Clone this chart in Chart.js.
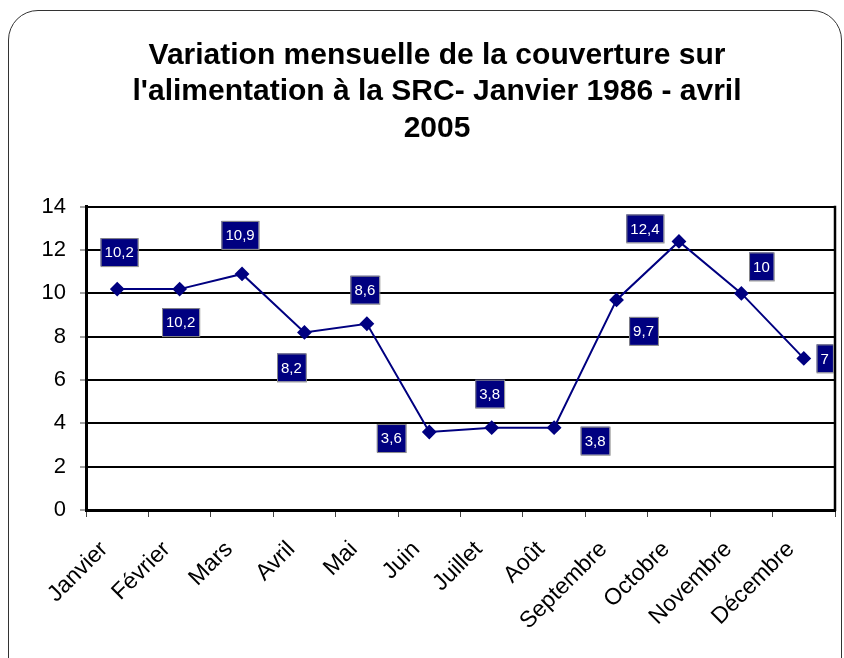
<!DOCTYPE html>
<html>
<head>
<meta charset="utf-8">
<script src="https://cdn.jsdelivr.net/npm/chart.js@4"></script>
<style>
  html, body { margin: 0; padding: 0; background: #fff; }
  #wrap { position: relative; width: 844px; height: 658px; overflow: hidden; }
  #frame {
    position: absolute; left: 8px; top: 10px; width: 832px; height: 700px;
    border: 1.5px solid #333; border-radius: 30px;
  }
  canvas { position: absolute; left: 0; top: 0; }
</style>
</head>
<body>
<div id="wrap">
  <div id="frame"></div>
  <canvas id="chart" width="844" height="658"></canvas>
</div>
<script>
var months = ["Janvier", "Février", "Mars", "Avril", "Mai", "Juin", "Juillet", "Août", "Septembre", "Octobre", "Novembre", "Décembre"];
var coverage = [10.2, 10.2, 10.9, 8.2, 8.6, 3.6, 3.8, 3.8, 9.7, 12.4, 10, 7];
var titleLines = ["Variation mensuelle de la couverture sur", "l'alimentation à la SRC- Janvier 1986 - avril", "2005"];

// where each value box sits relative to its point (moved by hand in the original)
var labelShift = [[2, -37], [1, 33], [-2, -39], [-13, 35], [-2, -34], [-38, 6], [-2, -34], [41, 13], [27, 31], [-34, -13], [20, -27], [21, 0]];

var navy = "#000080";
var font = "'Liberation Sans', Arial, sans-serif";

var valueBoxes = {
  id: "valueBoxes",
  afterDraw: function(chart) {
    var ctx = chart.ctx;
    var area = chart.chartArea;
    // right edge of the plot frame
    ctx.save();
    ctx.strokeStyle = "#000";
    ctx.lineWidth = 2.5;
    ctx.beginPath();
    ctx.moveTo(area.right, area.top - 1);
    ctx.lineTo(area.right, area.bottom + 1);
    ctx.stroke();

    var pts = chart.getDatasetMeta(0).data;
    ctx.font = "15px " + font;
    ctx.textAlign = "center";
    ctx.textBaseline = "middle";
    pts.forEach(function(p, i) {
      var txt = String(coverage[i]).replace(".", ",");
      var w = ctx.measureText(txt).width + 8;
      var h = 28;
      var cx = p.x + labelShift[i][0];
      var cy = p.y + labelShift[i][1];
      ctx.fillStyle = navy;
      ctx.fillRect(cx - w / 2, cy - h / 2, w, h);
      ctx.strokeStyle = "#8a8a8a";
      ctx.lineWidth = 1;
      ctx.strokeRect(cx - w / 2 + 0.5, cy - h / 2 + 0.5, w, h);
      ctx.fillStyle = "#fff";
      ctx.fillText(txt, cx, cy + 1);
    });
    ctx.restore();
  }
};

new Chart(document.getElementById("chart"), {
  type: "line",
  data: {
    labels: months,
    datasets: [{
      data: coverage,
      borderColor: navy,
      backgroundColor: navy,
      borderWidth: 2,
      pointStyle: "rectRot",
      pointRadius: 6,
      pointBackgroundColor: navy,
      pointBorderColor: navy,
      tension: 0
    }]
  },
  options: {
    responsive: false,
    animation: false,
    layout: { padding: { left: 39, right: 9, top: 0, bottom: 0 } },
    plugins: {
      legend: { display: false },
      tooltip: { enabled: false },
      title: {
        display: true,
        text: titleLines,
        color: "#000",
        font: { family: font, size: 30, weight: "bold", lineHeight: 1.22 },
        padding: { top: 37, bottom: 60 }
      }
    },
    scales: {
      x: {
        offset: true,
        grid: { offset: true, drawOnChartArea: false, drawTicks: true, tickLength: 7, tickWidth: 1, tickColor: "#444" },
        border: { display: true, color: "#000", width: 3 },
        ticks: {
          autoSkip: false, minRotation: 45, maxRotation: 45, padding: 19, labelOffset: -13,
          color: "#000", font: { family: font, size: 23 }
        },
        afterFit: function(s) { s.height = 148; }
      },
      y: {
        min: 0, max: 14,
        grid: { color: "#000", lineWidth: 2, tickLength: 6, tickWidth: 1, tickColor: "#444" },
        border: { display: true, color: "#000", width: 3 },
        ticks: { stepSize: 2, padding: 14, color: "#000", font: { family: font, size: 22 } },
        afterFit: function(s) { s.width = 47; }
      }
    }
  },
  plugins: [valueBoxes]
});
</script>
</body>
</html>
